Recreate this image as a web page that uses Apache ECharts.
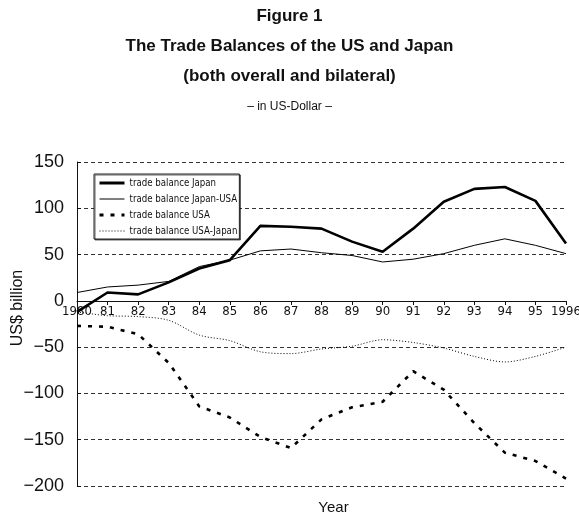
<!DOCTYPE html>
<html>
<head>
<meta charset="utf-8">
<script src="https://cdn.jsdelivr.net/npm/echarts@6/dist/echarts.min.js"></script>
<style>
  html, body { margin: 0; padding: 0; background: #fff; }
  #main { width: 579px; height: 513px; }
</style>
</head>
<body>
<div id="main"></div>
<script>
// years on the x axis and the labels printed under them
var years = ['1980','1981','1982','1983','1984','1985','1986','1987','1988','1989','1990','1991','1992','1993','1994','1995','1996'];
var yearLabels = ['1980','81','82','83','84','85','86','87','88','89','90','91','92','93','94','95','1996'];

// trade balances, US$ billion
var japan       = [-12, 9, 7, 20, 35, 44, 81, 80, 78, 64, 53, 78, 107, 121, 123, 108, 62];
var japanUsa    = [9, 15, 17, 21, 37, 44, 54, 56, 52, 49, 42, 45, 51, 60, 67, 60, 51];
var usa         = [-27, -28, -36, -67, -114, -126, -147, -159, -128, -115, -109, -76, -96, -132, -164, -173, -192];
var usaJapan    = [-12, -16, -17, -21, -37, -43, -55, -57, -52, -49, -42, -45, -51, -60, -66, -60, -50];

var narrow = '"DejaVu Sans Condensed", "Liberation Sans", sans-serif';

// the year axis sits on the zero line: shift it up from the grid bottom
var gridTop = 162, gridBottom = 27, yMin = -200, yMax = 150;
var plotH = 513 - gridTop - gridBottom;
var zeroOffset = -Math.round(plotH * (0 - yMin) / (yMax - yMin));

var myChart = echarts.init(document.getElementById('main'));

var option = {
    backgroundColor: '#fff',
    animation: false,
    color: ['#000', '#000', '#000', '#000'],
    title: [{
        text: 'Figure 1\nThe Trade Balances of the US and Japan\n(both overall and bilateral)',
        left: 'center',
        top: -4,
        textStyle: {
            fontFamily: 'Liberation Sans',
            fontWeight: 'bold',
            fontSize: 17,
            lineHeight: 30,
            color: '#111'
        }
    }, {
        text: '\u2013 in US-Dollar \u2013',
        left: 'center',
        top: 96,
        textStyle: {
            fontFamily: 'Liberation Sans',
            fontWeight: 'normal',
            fontSize: 12,
            color: '#111'
        }
    }],
    legend: {
        orient: 'vertical',
        left: 94,
        top: 174,
        itemWidth: 25,
        itemHeight: 10,
        itemGap: 6,
        padding: [4, 2, 3, 4],
        borderColor: '#222',
        borderWidth: 1,
        shadowColor: 'rgba(0,0,0,0.6)',
        shadowOffsetX: 1,
        shadowOffsetY: 1,
        backgroundColor: '#fff',
        itemStyle: { opacity: 0 },
        textStyle: {
            fontFamily: narrow,
            fontSize: 9.6,
            color: '#111'
        },
        data: [
            { name: 'trade balance Japan', lineStyle: { width: 3 } },
            { name: 'trade balance Japan-USA', lineStyle: { width: 1 } },
            { name: 'trade balance USA', lineStyle: { width: 3 } },
            { name: 'trade balance USA-Japan', lineStyle: { width: 1 } }
        ]
    },
    grid: {
        left: 77,
        right: 13,
        top: gridTop,
        bottom: gridBottom,
        outerBoundsMode: 'none'
    },
    xAxis: {
        type: 'category',
        data: years,
        boundaryGap: false,
        position: 'bottom',
        offset: zeroOffset,
        name: 'Year',
        nameLocation: 'middle',
        nameGap: 199,
        nameMoveOverlap: false,
        nameTextStyle: {
            fontFamily: 'Liberation Sans',
            fontSize: 15,
            color: '#111',
            padding: [0, 0, 0, 24]
        },
        axisLine: { onZero: false, lineStyle: { color: '#111', width: 1 } },
        axisTick: { show: true, length: 4, lineStyle: { color: '#111' } },
        axisLabel: {
            fontFamily: narrow,
            fontSize: 13,
            color: '#111',
            margin: 4,
            interval: 0,
            formatter: function (v, i) { return yearLabels[i]; }
        },
        splitLine: { show: false }
    },
    yAxis: {
        type: 'value',
        min: yMin,
        max: yMax,
        interval: 50,
        name: 'US$ billion',
        nameLocation: 'middle',
        nameGap: 51,
        nameMoveOverlap: false,
        nameTextStyle: {
            fontFamily: 'Liberation Sans',
            fontSize: 16,
            color: '#111',
            padding: [0, 0, 0, 32]
        },
        axisLine: { show: true, lineStyle: { color: '#111', width: 1 } },
        axisTick: { show: true, inside: true, length: 4, lineStyle: { color: '#111' } },
        axisLabel: {
            fontFamily: 'Liberation Sans',
            fontSize: 18,
            color: '#111',
            margin: 13,
            formatter: function (v) { return v < 0 ? '\u2212' + Math.abs(v) : String(v); }
        },
        splitLine: {
            show: true,
            lineStyle: { color: '#333', width: 1, type: [4, 3] }
        }
    },
    series: [{
        name: 'trade balance Japan',
        type: 'line',
        data: japan,
        symbol: 'none',
        z: 5,
        lineStyle: { color: '#000', width: 2.6, type: 'solid' }
    }, {
        name: 'trade balance Japan-USA',
        type: 'line',
        data: japanUsa,
        symbol: 'none',
        lineStyle: { color: '#000', width: 1, type: 'solid' }
    }, {
        name: 'trade balance USA',
        type: 'line',
        data: usa,
        symbol: 'none',
        lineStyle: { color: '#000', width: 2.6, type: [4, 7] }
    }, {
        name: 'trade balance USA-Japan',
        type: 'line',
        data: usaJapan,
        symbol: 'none',
        smooth: 0.3,
        lineStyle: { color: '#000', width: 1, type: [1, 2] }
    }]
};

myChart.setOption(option);
</script>
</body>
</html>
